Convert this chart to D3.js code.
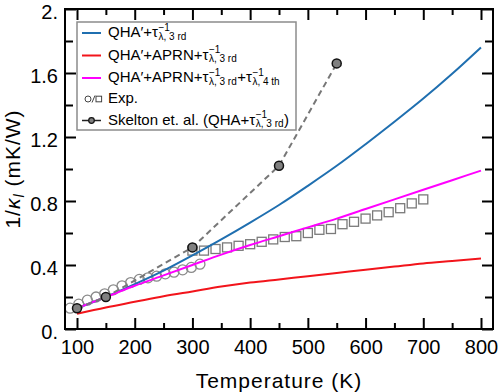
<!DOCTYPE html>
<html><head><meta charset="utf-8">
<script src="https://cdn.jsdelivr.net/npm/d3@7"></script>
<style>
body{margin:0;background:#fff}
svg{display:block}
.tick text{font-family:"Liberation Sans",Arial,sans-serif;font-size:20px;fill:#000}
.lg{font-family:"Liberation Sans",Arial,sans-serif;font-size:15px;fill:#000}
.ttl{font-family:"Liberation Sans",Arial,sans-serif;font-size:21px;letter-spacing:1px;fill:#000}
</style>
</head><body>
<script>
// ---- data ----
const tempGrid      = [100,150,200,250,300,350,400,450,500,550,600,650,700,750,800];
const qhaTau3       = [0.13,0.20,0.28,0.365,0.46,0.56,0.665,0.775,0.895,1.02,1.155,1.295,1.44,1.595,1.76];
const qhaAprnTau3   = [0.095,0.135,0.17,0.205,0.235,0.265,0.29,0.31,0.33,0.35,0.37,0.39,0.41,0.425,0.44];
const qhaAprnTau34  = [0.13,0.20,0.27,0.335,0.40,0.465,0.525,0.58,0.635,0.69,0.75,0.81,0.87,0.93,0.99];

const expCircleT = [88,103,118,133,148,163,178,193,208,223,238,253,268,283,298,313];
const expCircleV = [0.13,0.155,0.18,0.20,0.22,0.245,0.27,0.29,0.31,0.32,0.33,0.345,0.355,0.37,0.385,0.405];

const expSquareT = [300,320,340,360,380,400,420,440,460,480,500,520,540,560,580,600,620,640,660,680,700];
const expSquareV = [0.49,0.49,0.50,0.51,0.52,0.53,0.545,0.56,0.575,0.58,0.60,0.62,0.625,0.655,0.67,0.69,0.71,0.73,0.755,0.785,0.81];

const skeltonT = [100,150,300,450,550];
const skeltonV = [0.13,0.20,0.51,1.02,1.66];

const xMajorTicks = [100,200,300,400,500,600,700,800];
const xMinorTicks = [150,250,350,450,550,650,750];
const yMajorTicks = [0,0.4,0.8,1.2,1.6,2.0];
const yMajorLabels = ["0.","0.4","0.8","1.2","1.6","2."];
const yMinorTicks = [0.2,0.6,1.0,1.4,1.8];

const seriesColors = ["#1f6fb0","#f2141b","#ff00ff"];

const legendLabels = [
  ["QHA′+τ", {sup:"−1", sub:"λ, 3 rd"}],
  ["QHA′+APRN+τ", {sup:"−1", sub:"λ, 3 rd"}],
  ["QHA′+APRN+τ", {sup:"−1", sub:"λ, 3 rd"}, "+τ", {sup:"−1", sub:"λ, 4 th"}],
  ["Exp."],
  ["Skelton et. al. (QHA+τ", {sup:"−1", sub:"λ, 3 rd"}, ")"]
];

// ---- layout ----
const W=500,H=392,L=65,R=493,T=9,B=329;
const svg=d3.select("body").append("svg").attr("width",W).attr("height",H);
const x=d3.scaleLinear().domain([79.2,820.8]).range([L,R]);
const y=d3.scaleLinear().domain([0,2]).range([B,T]);

svg.append("clipPath").attr("id","clip").append("rect")
  .attr("x",L).attr("y",T).attr("width",R-L).attr("height",B-T);

const plot=svg.append("g").attr("clip-path","url(#clip)");

plot.selectAll("circle.expc").data(expCircleT).join("circle")
  .attr("class","expc")
  .attr("cx",d=>x(d)).attr("cy",(d,i)=>y(expCircleV[i])).attr("r",5)
  .attr("fill","none").attr("stroke","#8a8a8a").attr("stroke-width",1.3);
plot.selectAll("rect.exps").data(expSquareT).join("rect")
  .attr("class","exps")
  .attr("x",d=>x(d)-4.5).attr("y",(d,i)=>y(expSquareV[i])-4.5)
  .attr("width",9).attr("height",9)
  .attr("fill","none").attr("stroke","#7a7a7a").attr("stroke-width",1.3);

const line=d3.line().x(d=>x(d[0])).y(d=>y(d[1])).curve(d3.curveMonotoneX);
[qhaTau3,qhaAprnTau3,qhaAprnTau34].forEach((vals,k)=>{
  plot.append("path").datum(tempGrid.map((t,i)=>[t,vals[i]]))
    .attr("d",line).attr("fill","none")
    .attr("stroke",seriesColors[k]).attr("stroke-width",2);
});

const skData=skeltonT.map((t,i)=>[t,skeltonV[i]]);
plot.append("path").datum(skData)
  .attr("d",d3.line().x(d=>x(d[0])).y(d=>y(d[1])))
  .attr("fill","none").attr("stroke","#777").attr("stroke-width",2)
  .attr("stroke-dasharray","6,4");
plot.selectAll("circle.sk").data(skData).join("circle")
  .attr("class","sk")
  .attr("cx",d=>x(d[0])).attr("cy",d=>y(d[1])).attr("r",4.5)
  .attr("fill","#808080").attr("stroke","#111").attr("stroke-width",1.5);

// ---- axes ----
function styleAxis(g){
  g.select(".domain").remove();
  g.selectAll(".tick line").attr("stroke","#000").attr("stroke-width",2);
}
svg.append("g").attr("transform",`translate(0,${B})`)
  .call(d3.axisBottom(x).tickValues(xMajorTicks).tickSize(-11).tickPadding(11).tickFormat(d3.format("d")))
  .call(styleAxis);
svg.append("g").attr("transform",`translate(0,${B})`)
  .call(d3.axisBottom(x).tickValues(xMinorTicks).tickSize(-6).tickFormat(""))
  .call(styleAxis);
svg.append("g").attr("transform",`translate(0,${T})`)
  .call(d3.axisTop(x).tickValues(xMajorTicks).tickSize(-11).tickFormat(""))
  .call(styleAxis);
svg.append("g").attr("transform",`translate(0,${T})`)
  .call(d3.axisTop(x).tickValues(xMinorTicks).tickSize(-6).tickFormat(""))
  .call(styleAxis);
svg.append("g").attr("transform",`translate(${L},0)`)
  .call(d3.axisLeft(y).tickValues(yMajorTicks).tickSize(-11).tickPadding(7)
    .tickFormat((d,i)=>yMajorLabels[i]))
  .call(styleAxis)
  .call(g=>g.selectAll(".tick text").attr("dy","0.45em"));
svg.append("g").attr("transform",`translate(${L},0)`)
  .call(d3.axisLeft(y).tickValues(yMinorTicks).tickSize(-8).tickFormat(""))
  .call(styleAxis);
svg.append("g").attr("transform",`translate(${R},0)`)
  .call(d3.axisRight(y).tickValues(yMajorTicks).tickSize(-11).tickFormat(""))
  .call(styleAxis);
svg.append("g").attr("transform",`translate(${R},0)`)
  .call(d3.axisRight(y).tickValues(yMinorTicks).tickSize(-8).tickFormat(""))
  .call(styleAxis);

svg.append("rect").attr("x",L).attr("y",T).attr("width",R-L).attr("height",B-T)
  .attr("fill","none").attr("stroke","#000").attr("stroke-width",2);

// titles
svg.append("text").attr("class","ttl").attr("x",(L+R)/2).attr("y",388)
  .attr("text-anchor","middle").text("Temperature (K)");
const yt=svg.append("text").attr("class","ttl")
  .attr("transform",`translate(20,${(T+B)/2}) rotate(-90)`).attr("text-anchor","middle");
yt.append("tspan").text("1/");
yt.append("tspan").attr("font-style","italic").text("κ");
yt.append("tspan").attr("font-size","14px").attr("font-style","italic").attr("dy",4).text("l");
yt.append("tspan").attr("dy",-4).text(" (mK/W)");

// ---- legend ----
const lg=svg.append("g");
lg.append("rect").attr("x",77).attr("y",22).attr("width",219).attr("height",108)
  .attr("fill","#fff").attr("stroke","#8c8c8c").attr("stroke-width",1.5);
const baselines=[37,59.5,82,103,124.5];
function richText(g,x0,base,parts){
  const t=g.append("text").attr("class","lg").attr("x",x0).attr("y",base);
  let cx=x0;
  parts.forEach(p=>{
    if(typeof p==="string"){
      const s=t.append("tspan").attr("x",cx).attr("y",base).text(p);
      cx+=s.node().getComputedTextLength();
    } else {
      const a=t.append("tspan").attr("x",cx+0.5).attr("y",base-6.5).attr("font-size","10px").text(p.sup);
      const b=t.append("tspan").attr("x",cx+0.5).attr("y",base+2.5).attr("font-size","10px").text(p.sub);
      cx+=Math.max(a.node().getComputedTextLength(),b.node().getComputedTextLength())+1;
    }
  });
}
legendLabels.forEach((parts,i)=>{
  const by=baselines[i], ly=by-4;
  if(i<3){
    lg.append("line").attr("x1",82).attr("x2",101).attr("y1",ly).attr("y2",ly)
      .attr("stroke",seriesColors[i]).attr("stroke-width",2);
  } else if(i===3){
    lg.append("circle").attr("cx",88).attr("cy",ly).attr("r",3)
      .attr("fill","none").attr("stroke","#444").attr("stroke-width",1);
    lg.append("line").attr("x1",92).attr("x2",95).attr("y1",ly+3.5).attr("y2",ly-3.5)
      .attr("stroke","#444").attr("stroke-width",1);
    lg.append("rect").attr("x",96).attr("y",ly-2.8).attr("width",5.6).attr("height",5.6)
      .attr("fill","none").attr("stroke","#444").attr("stroke-width",1);
  } else {
    lg.append("line").attr("x1",82).attr("x2",101).attr("y1",ly).attr("y2",ly)
      .attr("stroke","#222").attr("stroke-width",1.5);
    lg.append("circle").attr("cx",91.5).attr("cy",ly).attr("r",2.8)
      .attr("fill","#808080").attr("stroke","#111").attr("stroke-width",1.2);
  }
  richText(lg,108,by,parts);
});
</script>
</body></html>
